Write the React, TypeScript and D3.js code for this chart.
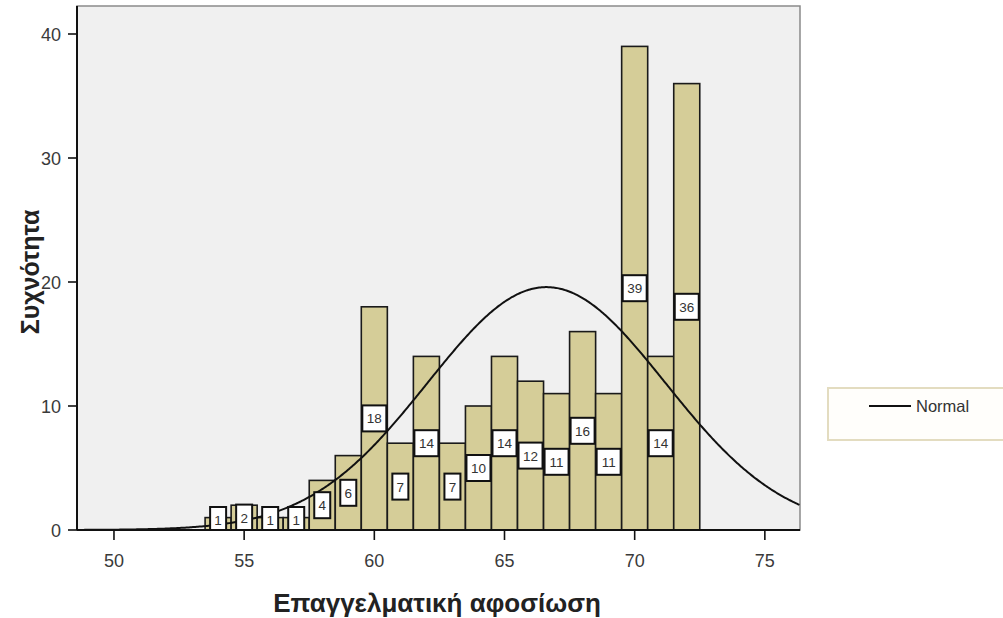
import React from "react";
import * as d3 from "d3";

const binCenters = [54, 55, 56, 57, 58, 59, 60, 61, 62, 63, 64, 65, 66, 67, 68, 69, 70, 71, 72];
const frequencies = [1, 2, 1, 1, 4, 6, 18, 7, 14, 7, 10, 14, 12, 11, 16, 11, 39, 14, 36];
const xTicks = [50, 55, 60, 65, 70, 75];
const yTicks = [0, 10, 20, 30, 40];
const xTitle = "Επαγγελματική αφοσίωση";
const yTitle = "Συχνότητα";
const legendLabel = "Normal";

const W = 1003;
const H = 618;
const left = 77, right = 800, top = 6, bottom = 530;

export default function App() {
  const x = d3.scaleLinear().domain([48.58, 76.35]).range([left, right]);
  const y = d3.scaleLinear().domain([0, 40]).range([bottom, 34]);

  const N = d3.sum(frequencies);
  const mean = d3.sum(binCenters.map((c, i) => c * frequencies[i])) / N;
  const variance =
    d3.sum(binCenters.map((c, i) => frequencies[i] * (c - mean) ** 2)) / (N - 1);
  const sd = Math.sqrt(variance);
  const normal = (v: number) =>
    (N * 1) / (sd * Math.sqrt(2 * Math.PI)) * Math.exp(-0.5 * ((v - mean) / sd) ** 2);
  const xs = d3.range(48.58, 76.36, 0.05);
  const line = d3
    .line<number>()
    .x((v) => x(v))
    .y((v) => y(normal(v)))
    .curve(d3.curveLinear);

  const font = "Arial, 'Liberation Sans', sans-serif";

  return (
    <svg width={W} height={H} style={{ position: "absolute", left: 0, top: 0 }}>
      <rect x={0} y={0} width={W} height={H} fill="#ffffff" />
      <rect x={left} y={top} width={right - left} height={bottom - top} fill="#f0f0f0" stroke="#8a8a8a" strokeWidth={1.5} />
      <defs>
        <clipPath id="plotclip">
          <rect x={left} y={top} width={right - left} height={bottom - top} />
        </clipPath>
      </defs>
      {binCenters.map((c, i) => (
        <rect
          key={"b" + c}
          x={x(c - 0.5)}
          y={y(frequencies[i])}
          width={x(c + 0.5) - x(c - 0.5)}
          height={bottom - y(frequencies[i])}
          fill="#d5cd98"
          stroke="#1a1a1a"
          strokeWidth={1.6}
        />
      ))}
      <path d={line(xs) || ""} fill="none" stroke="#111" strokeWidth={2} clipPath="url(#plotclip)" />
      <g clipPath="url(#plotclip)">
        {binCenters.map((c, i) => {
          const label = String(frequencies[i]);
          const bw = label.length > 1 ? 24 : 16;
          const bh = 26;
          const cy = Math.min(y(frequencies[i] / 2), bottom - 10);
          return (
            <g key={"l" + c}>
              <rect x={x(c) - bw / 2} y={cy - bh / 2} width={bw} height={bh} fill="#ffffff" stroke="#111" strokeWidth={2} />
              <text x={x(c)} y={cy + 5} textAnchor="middle" fontFamily={font} fontSize={13.5} fill="#333">
                {label}
              </text>
            </g>
          );
        })}
      </g>
      {/* axes */}
      <line x1={left} y1={top} x2={left} y2={bottom} stroke="#111" strokeWidth={2} />
      <line x1={left} y1={bottom} x2={right} y2={bottom} stroke="#111" strokeWidth={2} />
      {yTicks.map((t) => (
        <g key={"yt" + t}>
          <line x1={left - 9} x2={left} y1={y(t)} y2={y(t)} stroke="#111" strokeWidth={1.6} />
          <text x={left - 16} y={y(t) + 6.5} textAnchor="end" fontFamily={font} fontSize={18} fill="#3a3a3a">
            {t}
          </text>
        </g>
      ))}
      {xTicks.map((t) => (
        <g key={"xt" + t}>
          <line x1={x(t)} x2={x(t)} y1={bottom} y2={bottom + 10} stroke="#111" strokeWidth={1.6} />
          <text x={x(t)} y={bottom + 37} textAnchor="middle" fontFamily={font} fontSize={18} fill="#3a3a3a">
            {t}
          </text>
        </g>
      ))}
      <text x={437} y={612} textAnchor="middle" fontFamily={font} fontSize={26} fontWeight="bold" fill="#222">
        {xTitle}
      </text>
      <text
        transform={`translate(39, 272) rotate(-90)`}
        textAnchor="middle"
        fontFamily={font}
        fontSize={25}
        fontWeight="bold"
        fill="#222"
      >
        {yTitle}
      </text>
      {/* legend */}
      <rect x={828} y={388} width={180} height={52} fill="#fffefb" stroke="#e3dcc0" strokeWidth={2} />
      <line x1={869} x2={911} y1={406} y2={406} stroke="#111" strokeWidth={2} />
      <text x={916} y={412} fontFamily={font} fontSize={16.5} fill="#333">
        {legendLabel}
      </text>
    </svg>
  );
}
